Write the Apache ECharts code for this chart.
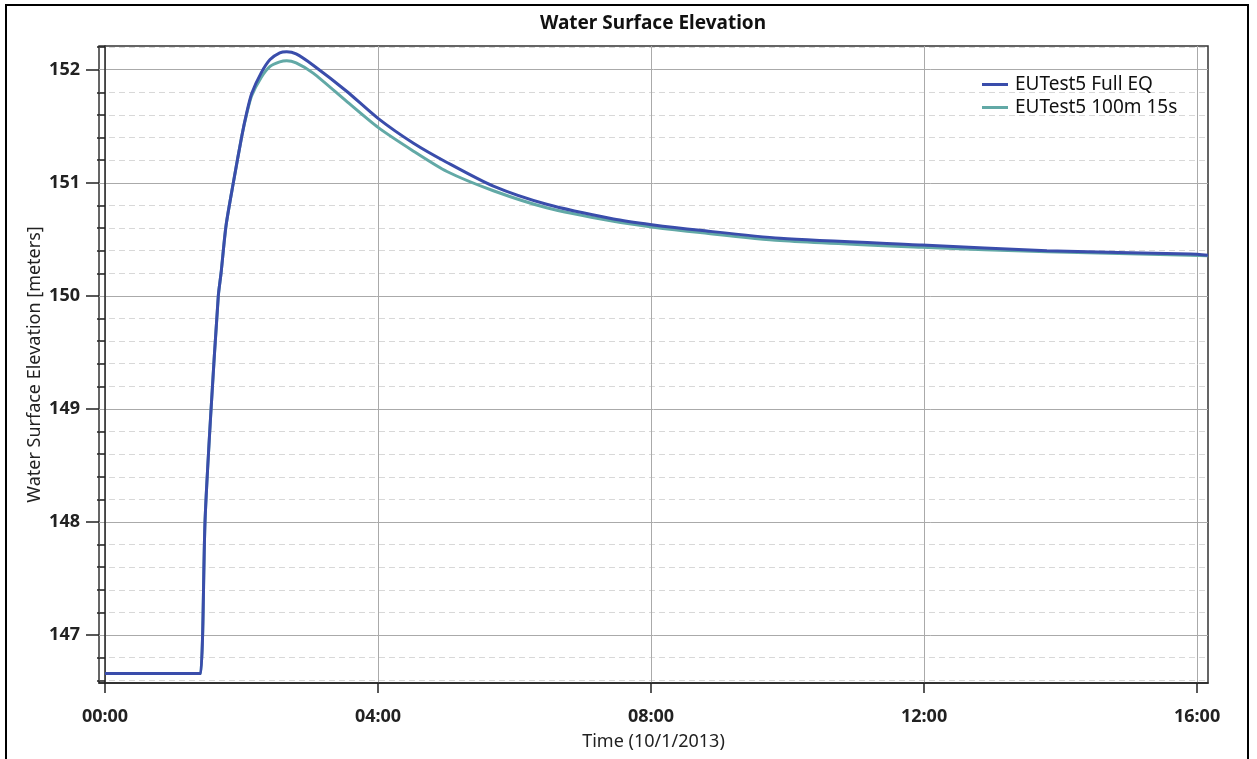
<!DOCTYPE html>
<html>
<head>
<meta charset="utf-8">
<script src="https://cdn.jsdelivr.net/npm/echarts@6/dist/echarts.min.js"></script>
<style>
html,body{margin:0;padding:0;background:#fff;}
#c{width:1257px;height:759px;}
</style>
</head>
<body>
<div id="c"></div>
<script>
// Time in hours since 10/1/2013 00:00
const hours = [0, 1.38, 1.402, 1.43, 1.465, 1.548, 1.66, 1.70, 1.773, 1.88, 2.003, 2.076, 2.149, 2.286, 2.418, 2.56, 2.662, 2.80, 3.05, 3.54, 4.00, 4.52, 5.01, 5.69, 6.47, 7.45, 8.01, 8.72, 9.89, 11.97, 13.80, 15.90, 16.16];
const fullEQ = [146.66, 146.66, 146.66, 147.0, 148.0, 148.94, 150.0, 150.2, 150.62, 151.0, 151.41, 151.62, 151.79, 151.97, 152.09, 152.15, 152.16, 152.14, 152.04, 151.81, 151.57, 151.35, 151.18, 150.97, 150.81, 150.68, 150.63, 150.58, 150.51, 150.45, 150.40, 150.37, 150.36];
const m100s15 = [146.66, 146.66, 146.66, 147.0, 148.0, 148.94, 150.0, 150.2, 150.62, 151.0, 151.41, 151.61, 151.77, 151.93, 152.03, 152.07, 152.08, 152.06, 151.97, 151.72, 151.49, 151.28, 151.10, 150.93, 150.78, 150.66, 150.61, 150.56, 150.49, 150.43, 150.39, 150.36, 150.355];
const seriesNames = ['EUTest5 Full EQ', 'EUTest5 100m 15s'];
const xTicks = [0, 4, 8, 12, 16];
const yMajorTicks = [147, 148, 149, 150, 151, 152];
const yMinorTicks = [146.6, 146.8, 147.2, 147.4, 147.6, 147.8, 148.2, 148.4, 148.6, 148.8, 149.2, 149.4, 149.6, 149.8, 150.2, 150.4, 150.6, 150.8, 151.2, 151.4, 151.6, 151.8, 152.2];

const FONT = 'Noto Sans';
const chart = echarts.init(document.getElementById('c'), null, {renderer: 'canvas'});
const xMin = -0.088, xMax = 16.16, yMin = 146.576, yMax = 152.21;
function fmtH(v){ const h = Math.round(v); return (h < 10 ? '0' : '') + h + ':00'; }

chart.setOption({
  animation: false,
  backgroundColor: '#fff',
  title: {
    text: 'Water Surface Elevation',
    left: 653, top: 14, textAlign: 'center', padding: 0,
    textStyle: {fontFamily: FONT, fontSize: 19, fontWeight: 'bold', color: '#111'}
  },
  graphic: [{
    type: 'rect', shape: {x: 6, y: 5, width: 1242, height: 800},
    style: {fill: 'none', stroke: '#000', lineWidth: 2}, silent: true, z: 100
  }],
  legend: {
    orient: 'vertical', left: 977, top: 70, itemGap: 4,
    itemWidth: 26, itemHeight: 3, icon: 'rect',
    textStyle: {fontFamily: FONT, fontSize: 19, color: '#111', padding: [0,0,0,2]},
    data: seriesNames
  },
  grid: {left: 99, top: 46, right: 49, bottom: 76, show: true, borderColor: '#333', borderWidth: 1.5, containLabel: false},
  xAxis: {
    type: 'value', min: xMin, max: xMax,
    name: 'Time (10/1/2013)', nameLocation: 'middle', nameGap: 50,
    nameTextStyle: {fontFamily: FONT, fontSize: 18, color: '#222'},
    axisLine: {show: true, lineStyle: {color: '#222', width: 1.5}},
    axisTick: {show: true, length: 10, customValues: xTicks, lineStyle: {color: '#222', width: 1.5}},
    axisLabel: {customValues: xTicks, formatter: fmtH, margin: 25, fontFamily: FONT, fontSize: 18, fontWeight: 'bold', color: '#222'},
    splitLine: {show: true, lineStyle: {color: '#aaa', width: 1}}
  },
  yAxis: [{
    type: 'value', min: yMin, max: yMax, position: 'left',
    name: 'Water Surface Elevation [meters]', nameLocation: 'middle', nameGap: 55, nameRotate: 90, nameMoveOverlap: false,
    nameTextStyle: {fontFamily: FONT, fontSize: 18, color: '#222'},
    axisLine: {show: true, lineStyle: {color: '#222', width: 1.5}},
    axisTick: {show: true, length: 8, customValues: yMinorTicks, lineStyle: {color: '#222', width: 1.5}},
    axisLabel: {customValues: yMajorTicks, margin: 19, fontFamily: FONT, fontSize: 18, fontWeight: 'bold', color: '#222'},
    splitLine: {show: true, lineStyle: {color: '#d8d8d8', width: 1, type: [6, 4]}}
  }, {
    type: 'value', min: yMin, max: yMax, position: 'left', offset: 0,
    axisLine: {show: false},
    axisTick: {show: true, length: 13, customValues: yMajorTicks, lineStyle: {color: '#222', width: 1.5}},
    axisLabel: {show: false},
    splitLine: {show: true, lineStyle: {color: '#aaa', width: 1}}
  }],
  series: [{
    name: seriesNames[0], type: 'line', yAxisIndex: 0, showSymbol: false, smooth: 0.25,
    data: hours.map((h, i) => [h, fullEQ[i]]),
    lineStyle: {color: '#3a4dab', width: 3}, itemStyle: {color: '#3a4dab'}, z: 3
  }, {
    name: seriesNames[1], type: 'line', yAxisIndex: 0, showSymbol: false, smooth: 0.25,
    data: hours.map((h, i) => [h, m100s15[i]]),
    lineStyle: {color: '#62a9a6', width: 3}, itemStyle: {color: '#62a9a6'}, z: 2
  }]
});
</script>
</body>
</html>
